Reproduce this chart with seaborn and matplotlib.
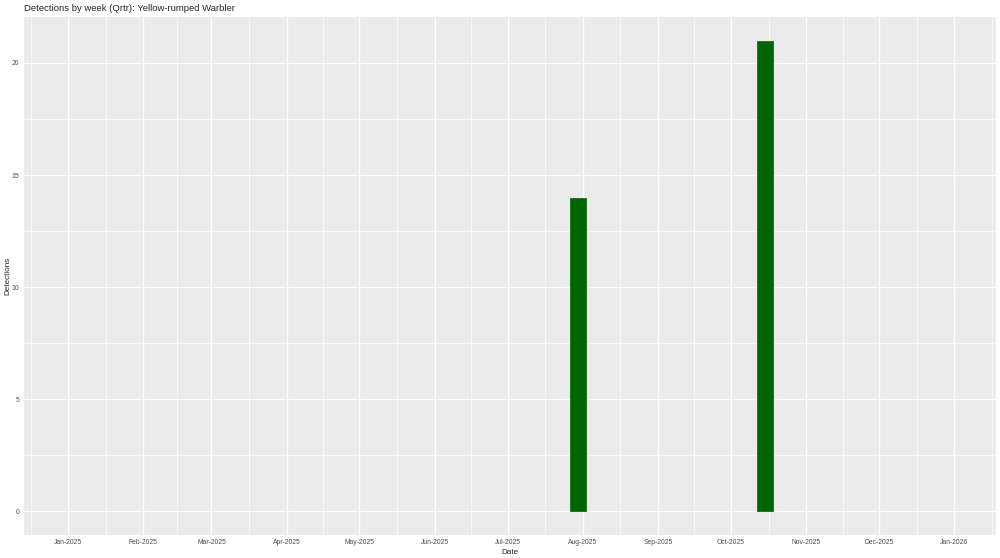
import pandas as pd
import matplotlib
matplotlib.use('Agg')
import matplotlib.pyplot as plt
import seaborn as sns

# =============================================================================
# Data
# =============================================================================
week_dates = pd.to_datetime(['2025-07-30', '2025-10-15'])
detections = [14, 21]
scale_start = pd.Timestamp('2025-01-01')
scale_end = pd.Timestamp('2025-12-31')
y_breaks = [0, 5, 10, 15, 20]
title = 'Detections by week (Qrtr): Yellow-rumped Warbler'

# =============================================================================
# Theme (ggplot grey look)
# =============================================================================
sns.set_theme(style='darkgrid', rc={'axes.facecolor': '#EBEBEB',
                                    'grid.color': 'white'})
plt.rcParams['font.family'] = ['Liberation Sans', 'DejaVu Sans']

fig, ax = plt.subplots(figsize=(10, 5.58), dpi=100)
fig.subplots_adjust(left=0.024, right=0.996, top=1 - 17 / 558, bottom=1 - 535 / 558)

# bars, width 0.9 of a week
bar_width = 7 * 0.9
ax.bar(week_dates, detections, width=bar_width, color='#006400',
       edgecolor='#006400', linewidth=0.5, zorder=3)

# x scale with 5% expansion
span = scale_end - scale_start
ax.set_xlim(scale_start - span * 0.05, scale_end + span * 0.05)
ax.set_ylim(-max(detections) * 0.05, max(detections) * 1.05)

months = pd.date_range('2024-12-01', '2026-02-01', freq='MS')
major = months[1:-1]
minor = [months[i] + (months[i + 1] - months[i]) / 2 for i in range(len(months) - 1)]
ax.set_xticks(major)
ax.set_xticklabels([d.strftime('%b-%Y') for d in major])
ax.set_xticks(minor, minor=True)
ax.set_yticks(y_breaks)
ax.set_yticks([b + 2.5 for b in y_breaks[:-1]], minor=True)

ax.grid(which='major', color='white', linewidth=1.0, zorder=0)
ax.grid(which='minor', color='white', linewidth=0.5, zorder=0)
ax.set_axisbelow(True)
for s in ax.spines.values():
    s.set_visible(False)

ax.tick_params(axis='both', which='major', length=2.2, width=0.6, color='#333333',
               labelsize=4.9, labelcolor='#4D4D4D', pad=1)
ax.tick_params(axis='both', which='minor', length=0)

ax.set_xlabel('Date', fontsize=5.9, labelpad=1.5)
ax.set_ylabel('Detections', fontsize=5.9)
ax.yaxis.set_label_coords(-0.0125, 0.5)
ax.set_title(title, fontsize=6.8, loc='left', pad=4)

plt.savefig('out.png', dpi=100)
